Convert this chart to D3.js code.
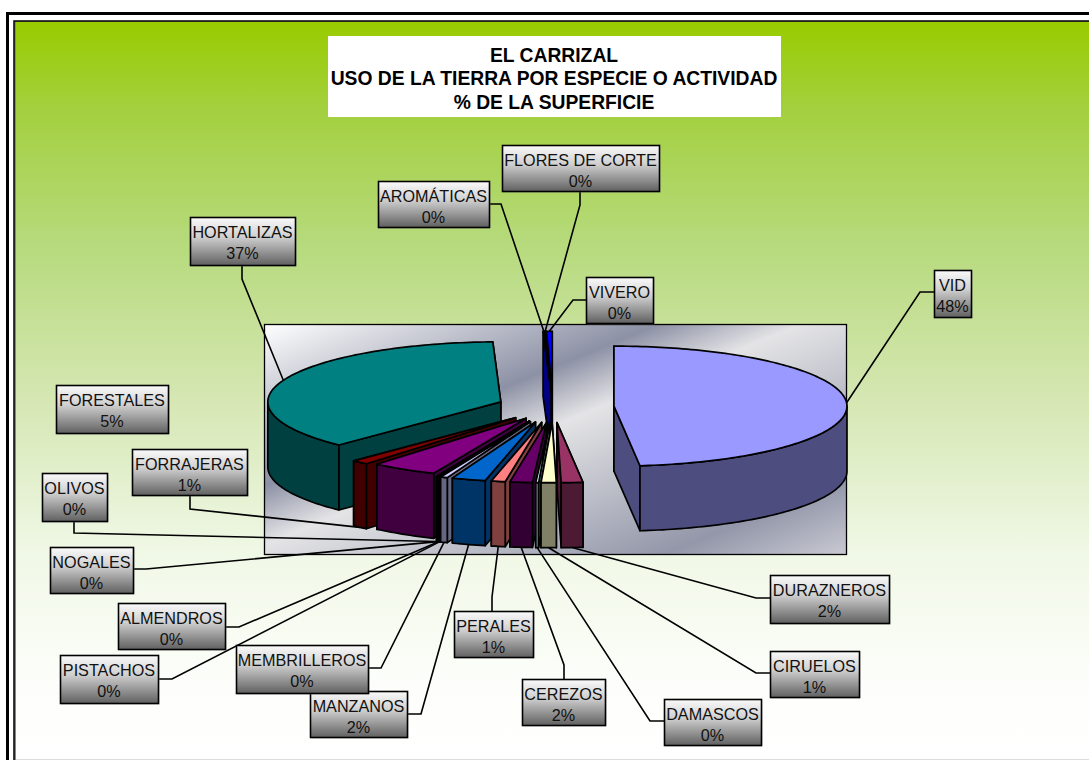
<!DOCTYPE html>
<html>
<head>
<meta charset="utf-8">
<script src="https://cdn.jsdelivr.net/npm/d3@7"></script>
<style>html,body{margin:0;padding:0;background:#fff;overflow:hidden}svg{display:block}</style>
</head>
<body>
<svg id="c" width="1089" height="760"></svg>
<script>
// ---- data ----
const titleLines = ["EL CARRIZAL", "USO DE LA TIERRA POR ESPECIE O ACTIVIDAD", "% DE LA SUPERFICIE"];
const categories = ["VID","DURAZNEROS","CIRUELOS","DAMASCOS","CEREZOS","PERALES","MANZANOS","MEMBRILLEROS","PISTACHOS","ALMENDROS","NOGALES","OLIVOS","FORESTALES","FORRAJERAS","HORTALIZAS","AROMÁTICAS","FLORES DE CORTE","VIVERO"];
const values = [48.45,1.5,1.05,0.2,1.55,0.97,2.35,0.49,0.05,0.05,0.05,0.05,4.6,1.17,37.4,0.1,0.05,0.4];
// ---- styles ----
const colors = ["#9999FF","#993366","#FFFFCC","#CCFFFF","#660066","#FF8080","#0066CC","#CCCCFF","#000080","#FF00FF","#FFFF00","#00FFFF","#800080","#800000","#008080","#0000FF","#0000FF","#0000FF"];
// per-slice pull-out of the pie, as in the spreadsheet's point explosion
const explosions = [0.262,0.262,0.262,0.262,0.262,0.262,0.262,0.262,0.262,0.262,0.262,0.262,0.22,0.24,0.24,0.262,0.262,0.262];
// label box [x0,y0,x1,y1] and leader elbow [x,y]; null elbow = no leader
const boxes = [[934,270,971,317],[770,575,889,623],[770,651,859,697],[664,699,761,745],[522,679,605,725],[454,611,533,657],[310,691,407,737],[236,645,368,693],[60,655,158,703],[118,603,225,649],[50,547,133,593],[42,473,107,521],[56,385,168,433],[132,449,247,495],[190,217,295,265],[378,181,489,227],[502,145,659,191],[586,277,653,323]];
const starts = [[934,292],[770,598],[770,673],[664,721],[564,679],[492,611],[407,714],[368,668],[158,679],[225,627],[133,569],[74,521],null,[190,495],[242,265],[489,204],[580,191],[586,300]];
const elbows = [[920,292],[756,598],[756,673],[650,721],[564,665],[492,597],[421,714],[381,668],[172,679],[239,627],[146,569],[74,533],null,[190,509],[242,279],[501,204],[580,205],[573,300]];

const geom = {cx:553, cy:407, rx:233, ry:60, depth:65};
const svg = d3.select("#c");
const defs = svg.append("defs");

function grad(id, attrs, stops){
  const g = defs.append("linearGradient").attr("id",id);
  Object.entries(attrs).forEach(([k,v])=>g.attr(k,v));
  stops.forEach(s=>g.append("stop").attr("offset",s[0]).attr("stop-color",s[1]));
}
grad("bg",{x1:0,y1:0,x2:0,y2:1},[[0,"#99CC00"],[0.12,"#A3D03F"],[0.3,"#B6DA7C"],[0.5,"#D4E6B0"],[0.72,"#F0F8E6"],[0.9,"#FDFEFB"],[1,"#FFFFFF"]]);
grad("panel",{gradientUnits:"userSpaceOnUse",x1:264,y1:324,x2:429,y2:726},[[0,"#FFFFFF"],[0.345,"#8D91A5"],[0.47,"#E4E4E6"],[0.84,"#9397A9"],[1,"#C8C9D2"]]);
grad("lab",{x1:0,y1:0,x2:0,y2:1},[[0,"#FAFAFA"],[0.4,"#D0D0D0"],[1,"#606060"]]);

// frame
svg.append("rect").attr("x",7.5).attr("y",13.5).attr("width",1200).attr("height",900).attr("fill","#fff").attr("stroke","#000").attr("stroke-width",3);
svg.append("rect").attr("x",14).attr("y",21).attr("width",1200).attr("height",900).attr("fill","#888").attr("stroke","#000").attr("stroke-width",1.5);
svg.append("rect").attr("x",16).attr("y",22).attr("width",1090).attr("height",737).attr("fill","url(#bg)");
svg.append("rect").attr("x",16).attr("y",759).attr("width",1090).attr("height",1).attr("fill","#ddd");

// title
svg.append("rect").attr("x",328).attr("y",36).attr("width",453).attr("height",81).attr("fill","#fff");
svg.append("g").selectAll("text").data(titleLines).join("text")
  .attr("x",554).attr("y",(d,i)=>61.5+i*23.5)
  .attr("text-anchor","middle")
  .attr("font-family","'Liberation Sans',Arial,sans-serif").attr("font-weight","bold").attr("font-size",19.3).attr("fill","#000")
  .text(d=>d);

// plot panel
svg.append("rect").attr("x",264.5).attr("y",324.5).attr("width",582).attr("height",230).attr("fill","url(#panel)").attr("stroke","#000").attr("stroke-width",1.3);

// pie
const pie = d3.pie().sort(null).value(d=>d.value).startAngle(0).endAngle(2*Math.PI);
const arcs = pie(categories.map((name,i)=>({name,value:values[i],color:colors[i],explode:explosions[i],box:boxes[i],start:starts[i],elbow:elbows[i]})));
const sx = d3.scaleLinear().domain([-1,1]).range([-geom.rx,geom.rx]);
const sy = d3.scaleLinear().domain([-1,1]).range([geom.ry,-geom.ry]);

function apex(a){
  const m=(a.startAngle+a.endAngle)/2, e=a.data.explode;
  return [geom.cx+e*sx(Math.sin(m)), geom.cy+e*sy(Math.cos(m))];
}
function rim(a,t,z=0){
  const p=apex(a);
  return [p[0]+sx(Math.sin(t)), p[1]+sy(Math.cos(t))+z];
}
function sweep(t0,t1){
  const n=Math.max(2,Math.ceil((t1-t0)/0.02));
  return d3.range(n+1).map(i=>t0+(t1-t0)*i/n);
}
const line = d3.line();
const closed = pts=>line(pts)+"Z";
const wallColor = c=>{const r=d3.rgb(c);return d3.rgb(r.r/2,r.g/2,r.b/2).formatHex();};

const order = arcs.slice().sort((a,b)=>{
  const ma=(a.startAngle+a.endAngle)/2, mb=(b.startAngle+b.endAngle)/2;
  return Math.cos(mb)-Math.cos(ma);
});
const gSlices = svg.append("g").attr("stroke","#000").attr("stroke-width",1.7).attr("stroke-linejoin","round");
order.forEach(a=>{
  const c=a.data.color, w=wallColor(c), d=geom.depth, p=apex(a);
  const g=gSlices.append("g");
  const side=t=>{const r=rim(a,t);return closed([p,r,[r[0],r[1]+d],[p[0],p[1]+d]]);};
  const m=(a.startAngle+a.endAngle)/2;
  const sides = Math.sin(m)>=0 ? [a.startAngle,a.endAngle] : [a.endAngle,a.startAngle];
  sides.forEach(t=>g.append("path").attr("d",side(t)).attr("fill",w));
  const f0=Math.max(a.startAngle,Math.PI/2), f1=Math.min(a.endAngle,3*Math.PI/2);
  if(f1>f0){
    const ts=sweep(f0,f1);
    g.append("path").attr("d",closed(ts.map(t=>rim(a,t)).concat(ts.slice().reverse().map(t=>rim(a,t,d))))).attr("fill",w);
  }
  g.append("path").attr("d",closed([p].concat(sweep(a.startAngle,a.endAngle).map(t=>rim(a,t))))).attr("fill",c);
});

// leaders
const gLead = svg.append("g").attr("fill","none").attr("stroke","#000").attr("stroke-width",1.6);
arcs.filter(a=>a.data.start).forEach(a=>{
  const m=(a.startAngle+a.endAngle)/2;
  const front = Math.cos(m)<0 && Math.abs(Math.sin(m))<0.8;
  const end = rim(a,m,front?geom.depth:0);
  gLead.append("path").attr("d",line([a.data.start,a.data.elbow,end]));
});

// labels
const gLab = svg.append("g").attr("font-family","'Liberation Sans',Arial,sans-serif").attr("font-size",16.2).attr("fill","#111");
arcs.forEach(a=>{
  const [x0,y0,x1,y1]=a.data.box, xm=(x0+x1)/2;
  gLab.append("rect").attr("x",x0+1.5).attr("y",y0+1.5).attr("width",x1-x0).attr("height",y1-y0).attr("fill","#aaa").attr("opacity",0.45);
  gLab.append("rect").attr("x",x0+.5).attr("y",y0+.5).attr("width",x1-x0).attr("height",y1-y0).attr("fill","url(#lab)").attr("stroke","#000").attr("stroke-width",1.6);
  gLab.append("text").attr("x",xm).attr("y",y0+20.5).attr("text-anchor","middle").text(a.data.name);
  gLab.append("text").attr("x",xm).attr("y",y0+42).attr("text-anchor","middle").text(Math.round(a.data.value)+"%");
});
</script>
</body>
</html>
